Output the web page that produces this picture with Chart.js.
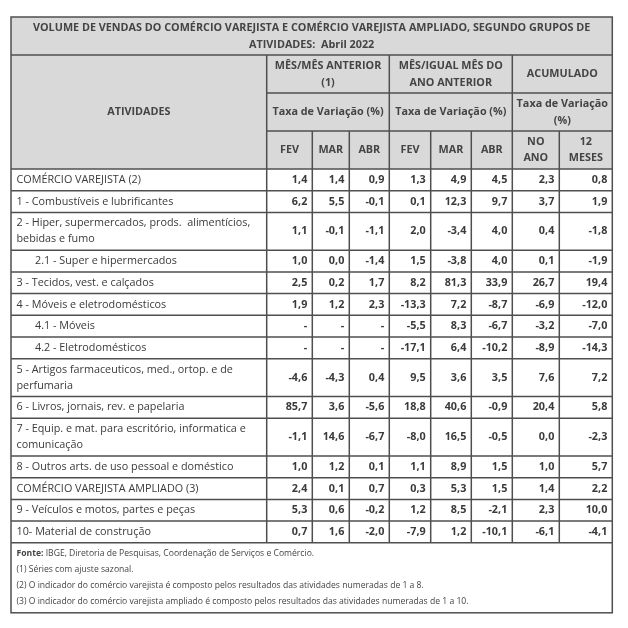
<!DOCTYPE html>
<html><head><meta charset="utf-8">
<script src="https://cdn.jsdelivr.net/npm/chart.js@4.4.0/dist/chart.umd.min.js"></script>
<style>html,body{margin:0;padding:0;background:#fff;}canvas{display:block}</style>
</head><body>
<canvas id="c" width="628" height="628"></canvas>
<script>
// ---------- DATA ----------
const titleLines = [
  'VOLUME DE VENDAS DO COMÉRCIO VAREJISTA E COMÉRCIO VAREJISTA AMPLIADO, SEGUNDO GRUPOS DE',
  'ATIVIDADES:  Abril 2022'
];
const stubHeader = 'ATIVIDADES';
const groupHeaders = [['MÊS/MÊS ANTERIOR', '(1)'], ['MÊS/IGUAL MÊS DO', 'ANO ANTERIOR'], ['ACUMULADO']];
const rateHeaders = [['Taxa de Variação (%)'], ['Taxa de Variação (%)'], ['Taxa de Variação', '(%)']];
const columnLabels = [['FEV'], ['MAR'], ['ABR'], ['FEV'], ['MAR'], ['ABR'], ['NO', 'ANO'], ['12', 'MESES']];
const activities = [
  ['COMÉRCIO VAREJISTA (2)'],
  ['1 - Combustíveis e lubrificantes'],
  ['2 - Hiper, supermercados, prods.  alimentícios,', 'bebidas e fumo'],
  ['2.1 - Super e hipermercados'],
  ['3 - Tecidos, vest. e calçados'],
  ['4 - Móveis e eletrodomésticos'],
  ['4.1 - Móveis'],
  ['4.2 - Eletrodomésticos'],
  ['5 - Artigos farmaceuticos, med., ortop. e de', 'perfumaria'],
  ['6 - Livros, jornais, rev. e papelaria'],
  ['7 - Equip. e mat. para escritório, informatica e', 'comunicação'],
  ['8 - Outros arts. de uso pessoal e doméstico'],
  ['COMÉRCIO VAREJISTA AMPLIADO (3)'],
  ['9 - Veículos e motos, partes e peças'],
  ['10- Material de construção']
];
const subItem = [false, false, false, true, false, false, true, true, false, false, false, false, false, false, false];
const mmFev = [1.4, 6.2, 1.1, 1.0, 2.5, 1.9, null, null, -4.6, 85.7, -1.1, 1.0, 2.4, 5.3, 0.7];
const mmMar = [1.4, 5.5, -0.1, 0.0, 0.2, 1.2, null, null, -4.3, 3.6, 14.6, 1.2, 0.1, 0.6, 1.6];
const mmAbr = [0.9, -0.1, -1.1, -1.4, 1.7, 2.3, null, null, 0.4, -5.6, -6.7, 0.1, 0.7, -0.2, -2.0];
const iaFev = [1.3, 0.1, 2.0, 1.5, 8.2, -13.3, -5.5, -17.1, 9.5, 18.8, -8.0, 1.1, 0.3, 1.2, -7.9];
const iaMar = [4.9, 12.3, -3.4, -3.8, 81.3, 7.2, 8.3, 6.4, 3.6, 40.6, 16.5, 8.9, 5.3, 8.5, 1.2];
const iaAbr = [4.5, 9.7, 4.0, 4.0, 33.9, -8.7, -6.7, -10.2, 3.5, -0.9, -0.5, 1.5, 1.5, -2.1, -10.1];
const acAno = [2.3, 3.7, 0.4, 0.1, 26.7, -6.9, -3.2, -8.9, 7.6, 20.4, 0.0, 1.0, 1.4, 2.3, -6.1];
const ac12m = [0.8, 1.9, -1.8, -1.9, 19.4, -12.0, -7.0, -14.3, 7.2, 5.8, -2.3, 5.7, 2.2, 10.0, -4.1];
const footnotes = [
  ['Fonte:', ' IBGE, Diretoria de Pesquisas, Coordenação de Serviços e Comércio.'],
  ['', '(1) Séries com ajuste sazonal.'],
  ['', '(2) O indicador do comércio varejista é composto pelos resultados das atividades numeradas de 1 a 8.'],
  ['', '(3) O indicador do comércio varejista ampliado é composto pelos resultados das atividades numeradas de 1 a 10.']
];

// ---------- LAYOUT ----------
const series = [mmFev, mmMar, mmAbr, iaFev, iaMar, iaAbr, acAno, ac12m];
const colWidths = [255.7, 45.6, 37, 40, 41.4, 40.6, 41, 47, 53];
const headerRowH = 38;
const singleH = 21.7, doubleH = 37.8, footerH = 70;
const colEdges = [0];
colWidths.forEach(w => colEdges.push(colEdges[colEdges.length - 1] + w));
const TW = colEdges[colEdges.length - 1];
const rowEdges = [headerRowH * 4];
activities.forEach(a => rowEdges.push(rowEdges[rowEdges.length - 1] + (a.length > 1 ? doubleH : singleH)));
const dataEnd = rowEdges[rowEdges.length - 1];
const TH = dataEnd + footerH;
const LEFT = 11, TOP = 17;

const fmt = v => v === null ? '-' : v.toFixed(1).replace('.', ',');
const FONT = '"Open Sans", "Noto Sans", sans-serif';
const FS = '10.8px ';
const TXT = '#3a3a3a', HDR = '#444444', BORDER = '#4f4f4f', HDRBG = '#d9d9d9';

const datasets = series.map((s, ci) => ({
  label: 'c' + ci,
  data: s.map((v, ri) => ({ x: colEdges[ci + 2] - 5, y: (rowEdges[ri] + rowEdges[ri + 1]) / 2, v: v })),
  pointRadius: 0, pointHoverRadius: 0, showLine: false
}));

function lines(ctx, arr, x, y, lh) {
  const n = arr.length;
  arr.forEach((t, i) => ctx.fillText(t, x, y + (i - (n - 1) / 2) * lh));
}

const tablePlugin = {
  id: 'table',
  beforeDatasetsDraw(chart) {
    const ctx = chart.ctx, xs = chart.scales.x, ys = chart.scales.y;
    const X = v => xs.getPixelForValue(v), Y = v => ys.getPixelForValue(v);
    ctx.save();
    ctx.fillStyle = HDRBG;
    ctx.fillRect(X(0), Y(0), X(TW) - X(0), Y(rowEdges[0]) - Y(0));
    ctx.strokeStyle = BORDER; ctx.lineWidth = 1.5;
    const seg = (x1, y1, x2, y2) => { ctx.beginPath(); ctx.moveTo(X(x1), Y(y1)); ctx.lineTo(X(x2), Y(y2)); ctx.stroke(); };
    seg(0, headerRowH, TW, headerRowH);
    seg(colEdges[1], headerRowH * 2, TW, headerRowH * 2);
    seg(colEdges[1], headerRowH * 3, TW, headerRowH * 3);
    rowEdges.forEach(r => seg(0, r, TW, r));
    [1, 4, 7].forEach(c => seg(colEdges[c], headerRowH, colEdges[c], dataEnd));
    [2, 3, 5, 6, 8].forEach(c => seg(colEdges[c], headerRowH * 3, colEdges[c], dataEnd));
    ctx.strokeRect(X(0), Y(0), X(TW) - X(0), Y(TH) - Y(0));

    ctx.textBaseline = 'middle';
    ctx.textAlign = 'center';
    ctx.fillStyle = HDR;
    ctx.font = 'bold ' + FS + FONT;
    lines(ctx, titleLines, X(TW / 2), Y(headerRowH / 2), 17);
    lines(ctx, [stubHeader], X(colEdges[1] / 2), Y(headerRowH * 2.5), 17);
    const groups = [[1, 4], [4, 7], [7, 9]];
    groups.forEach((g, i) => {
      const cx = X((colEdges[g[0]] + colEdges[g[1]]) / 2);
      lines(ctx, groupHeaders[i], cx, Y(headerRowH * 1.5), 17);
      lines(ctx, rateHeaders[i], cx, Y(headerRowH * 2.5), 17);
    });
    columnLabels.forEach((l, i) => {
      lines(ctx, l, X((colEdges[i + 1] + colEdges[i + 2]) / 2), Y(headerRowH * 3.5), 16);
    });
    ctx.textAlign = 'left';
    ctx.fillStyle = TXT;
    ctx.font = FS + FONT;
    activities.forEach((a, i) => {
      lines(ctx, a, X(subItem[i] ? 24 : 5.5), Y((rowEdges[i] + rowEdges[i + 1]) / 2), 16);
    });
    const fy0 = dataEnd + 10.5;
    footnotes.forEach((f, i) => {
      let x = X(5.5);
      const y = Y(fy0 + i * 16);
      if (f[0]) {
        ctx.font = 'bold 8.6px ' + FONT; ctx.fillStyle = HDR;
        ctx.fillText(f[0], x, y);
        x += ctx.measureText(f[0]).width;
      }
      ctx.font = '8.6px ' + FONT; ctx.fillStyle = HDR;
      ctx.fillText(f[1], x, y);
    });
    ctx.restore();
  },
  afterDatasetsDraw(chart) {
    const ctx = chart.ctx;
    ctx.save();
    ctx.textBaseline = 'middle';
    ctx.textAlign = 'right';
    ctx.fillStyle = TXT;
    ctx.font = 'bold ' + FS + FONT;
    chart.data.datasets.forEach((ds, di) => {
      chart.getDatasetMeta(di).data.forEach((el, i) => {
        ctx.fillText(fmt(ds.data[i].v), el.x, el.y);
      });
    });
    ctx.restore();
  }
};

new Chart(document.getElementById('c'), {
  type: 'scatter',
  data: { datasets },
  options: {
    responsive: false, animation: false, devicePixelRatio: 1,
    layout: { padding: { left: LEFT, top: TOP, right: 628 - LEFT - TW, bottom: 628 - TOP - TH } },
    scales: {
      x: { type: 'linear', min: 0, max: TW, display: false },
      y: { type: 'linear', min: 0, max: TH, reverse: true, display: false }
    },
    plugins: { legend: { display: false }, tooltip: { enabled: false } },
    events: []
  },
  plugins: [tablePlugin]
});
</script>
</body></html>
